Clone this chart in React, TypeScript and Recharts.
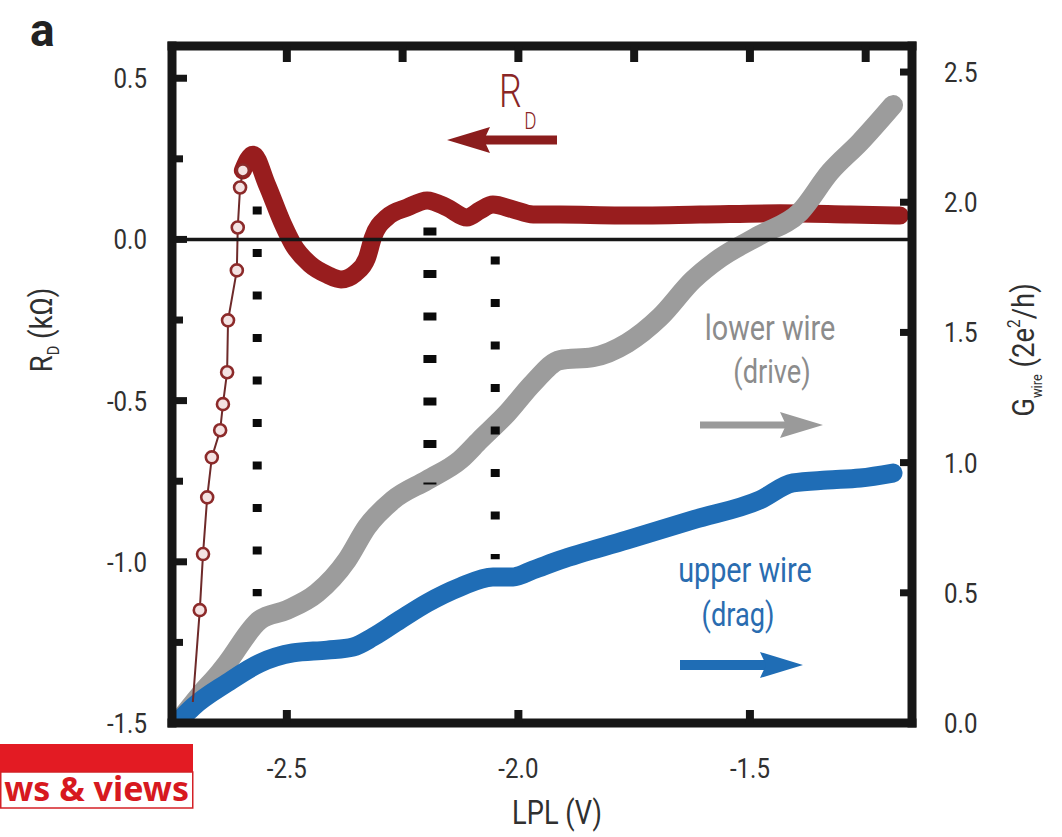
import React from 'react';
import { LineChart, Line, XAxis, YAxis, ReferenceLine } from 'recharts';

const W = 1062;
const H = 837;

// ---- data (LPL gate voltage in V) ----
// lower wire (drive) conductance, right axis (2e^2/h)
const grayX = [-2.731, -2.688, -2.644, -2.629, -2.558, -2.5, -2.435, -2.37, -2.327, -2.271, -2.197, -2.126, -2.083, -2.024, -1.968, -1.91, -1.839, -1.765, -1.694, -1.623, -1.564, -1.478, -1.392, -1.327, -1.262, -1.191];
const grayG = [0.012, 0.107, 0.196, 0.23, 0.396, 0.434, 0.499, 0.626, 0.753, 0.856, 0.933, 1.01, 1.087, 1.19, 1.306, 1.394, 1.405, 1.459, 1.559, 1.701, 1.786, 1.874, 1.962, 2.116, 2.231, 2.373];

// upper wire (drag) conductance, right axis
const blueX = [-2.731, -2.703, -2.629, -2.558, -2.487, -2.413, -2.357, -2.314, -2.256, -2.197, -2.126, -2.055, -2.011, -1.968, -1.91, -1.765, -1.623, -1.478, -1.407, -1.333, -1.262, -1.191];
const blueG = [0.012, 0.061, 0.154, 0.23, 0.269, 0.28, 0.292, 0.33, 0.396, 0.461, 0.522, 0.561, 0.561, 0.588, 0.626, 0.703, 0.78, 0.857, 0.922, 0.933, 0.941, 0.96];

// drag resistance R_D (kOhm), left axis: sparse open-circle part
const rdSparseX = [-2.703, -2.688, -2.681, -2.672, -2.662, -2.644, -2.638, -2.629, -2.627, -2.608, -2.606, -2.601, -2.595];
const rdSparseV = [-1.435, -1.15, -0.976, -0.8, -0.676, -0.592, -0.511, -0.412, -0.251, -0.096, 0.037, 0.161, 0.214];

// drag resistance R_D, dense part
const rdDenseX = [-2.595, -2.573, -2.543, -2.508, -2.487, -2.45, -2.412, -2.383, -2.352, -2.327, -2.314, -2.284, -2.24, -2.197, -2.154, -2.111, -2.083, -2.055, -2.011, -1.968, -1.91, -1.78, -1.608, -1.435, -1.284, -1.176];
const rdDenseV = [0.214, 0.263, 0.17, 0.046, -0.015, -0.077, -0.11, -0.124, -0.105, -0.058, 0.006, 0.068, 0.099, 0.121, 0.099, 0.068, 0.09, 0.108, 0.093, 0.077, 0.077, 0.074, 0.077, 0.081, 0.077, 0.074];

// dotted guide lines (x position, top and bottom in R_D units)
const guideX = [-2.564, -2.191, -2.05];
const guideTop = [0.102, 0.037, -0.053];
const guideBottom = [-1.107, -0.76, -0.992];

// ticks
const xLabelTicks = [-2.5, -2.0, -1.5];
const xTopTicks = [-2.5, -2.25, -2.0, -1.75, -1.5, -1.25];
const leftTicks = [-1.5, -1.25, -1.0, -0.75, -0.5, -0.25, 0, 0.25, 0.5];
const rightTicks = [0, 0.5, 1.0, 1.5, 2.0, 2.5];

const X_DOMAIN = [-2.748, -1.15];
const L_DOMAIN = [-1.5, 0.6];
const R_DOMAIN = [0, 2.6];

const zip = (xs: number[], ys: number[]) => xs.map((x, i) => ({ x, y: ys[i] }));
const grayData = zip(grayX, grayG);
const blueData = zip(blueX, blueG);
const rdSparse = zip(rdSparseX, rdSparseV);
const rdDense = zip(rdDenseX, rdDenseV);

const FONT = "Roboto, 'Liberation Sans', Arial, sans-serif";
const INK = '#161616';
const LABEL = '#303030';

const Cond = ({ x, y, anchor = 'middle', size = 28, fill = LABEL, weight = 400, sx = 0.86, rotate = 0, children }: any) => (
  <g transform={`translate(${x},${y}) rotate(${rotate}) scale(${sx},1)`}>
    <text x={0} y={0} textAnchor={anchor} fontFamily={FONT} fontSize={size} fill={fill} fontWeight={weight}>
      {children}
    </text>
  </g>
);

const isMajor = (v: number) => Math.abs(v * 2 - Math.round(v * 2)) < 1e-6;
const fmt = (v: number) => (Math.abs(v) < 1e-9 ? '0.0' : v.toFixed(1));

const LeftTick = (p: any) => {
  const v = p.payload.value;
  const major = isMajor(v);
  return (
    <g>
      <line x1={p.x} x2={p.x + (major ? 15 : 11)} y1={p.y} y2={p.y} stroke={INK} strokeWidth={7} />
      {major && <Cond x={p.x - 25} y={p.y + 10} anchor="end">{fmt(v)}</Cond>}
    </g>
  );
};

const RightTick = (p: any) => {
  const v = p.payload.value;
  return (
    <g>
      <line x1={p.x} x2={p.x - 12} y1={p.y} y2={p.y} stroke={INK} strokeWidth={7} />
      <Cond x={p.x + 32} y={p.y + 10} anchor="start">{fmt(v)}</Cond>
    </g>
  );
};

const BottomTick = (p: any) => {
  const v = p.payload.value;
  return (
    <g>
      <line x1={p.x} x2={p.x} y1={p.y} y2={p.y - 13} stroke={INK} strokeWidth={8} />
      <Cond x={p.x} y={p.y + 55} anchor="middle">{fmt(v)}</Cond>
    </g>
  );
};

const TopTick = (p: any) => (
  <line x1={p.x} x2={p.x} y1={p.y} y2={p.y + 16} stroke={INK} strokeWidth={8} />
);

const frameLine = { stroke: INK, strokeWidth: 9, strokeLinecap: 'square' as const };

export default function App() {
  return (
    <div style={{ position: 'absolute', left: 0, top: 0, width: W, height: H, background: '#fff', overflow: 'hidden' }}>
      <LineChart width={W} height={H} margin={{ top: 44, right: 0, bottom: 0, left: 0 }}>
        <XAxis
          xAxisId="b"
          type="number"
          dataKey="x"
          domain={X_DOMAIN}
          allowDataOverflow
          ticks={xLabelTicks}
          interval={0}
          orientation="bottom"
          height={114}
          axisLine={frameLine}
          tickLine={false}
          tickSize={0}
          tickMargin={0}
          tick={(p: any) => <BottomTick {...p} />}
        />
        <XAxis
          xAxisId="t"
          type="number"
          dataKey="x"
          domain={X_DOMAIN}
          allowDataOverflow
          ticks={xTopTicks}
          interval={0}
          orientation="top"
          height={2}
          axisLine={frameLine}
          tickLine={false}
          tickSize={0}
          tickMargin={0}
          tick={(p: any) => <TopTick {...p} />}
        />
        <YAxis
          yAxisId="L"
          type="number"
          domain={L_DOMAIN}
          allowDataOverflow
          ticks={leftTicks}
          interval={0}
          width={172}
          axisLine={frameLine}
          tickLine={false}
          tickSize={0}
          tickMargin={0}
          tick={(p: any) => <LeftTick {...p} />}
        />
        <YAxis
          yAxisId="R"
          orientation="right"
          type="number"
          domain={R_DOMAIN}
          allowDataOverflow
          ticks={rightTicks}
          interval={0}
          width={150}
          axisLine={frameLine}
          tickLine={false}
          tickSize={0}
          tickMargin={0}
          tick={(p: any) => <RightTick {...p} />}
        />

        <Line
          xAxisId="b"
          yAxisId="L"
          data={rdDense}
          dataKey="y"
          type="monotone"
          stroke="#981d1e"
          strokeWidth={18}
          strokeLinecap="round"
          strokeLinejoin="round"
          dot={false}
          isAnimationActive={false}
        />
        <Line
          xAxisId="b"
          yAxisId="R"
          data={grayData}
          dataKey="y"
          type="monotone"
          stroke="#9c9c9c"
          strokeWidth={20}
          strokeLinecap="round"
          strokeLinejoin="round"
          dot={false}
          isAnimationActive={false}
        />
        <Line
          xAxisId="b"
          yAxisId="R"
          data={blueData}
          dataKey="y"
          type="monotone"
          stroke="#1f6db6"
          strokeWidth={19}
          strokeLinecap="round"
          strokeLinejoin="round"
          dot={false}
          isAnimationActive={false}
        />
        <Line
          xAxisId="b"
          yAxisId="L"
          data={rdSparse}
          dataKey="y"
          type="linear"
          stroke="#6e2a2a"
          strokeWidth={2}
          dot={(p: any) =>
            p.index === 0 ? (
              <g key={`d${p.index}`} />
            ) : (
              <circle key={`d${p.index}`} cx={p.cx} cy={p.cy} r={6} fill="#f4e2e2" stroke="#8c2a2a" strokeWidth={2.6} />
            )
          }
          isAnimationActive={false}
        />

        <ReferenceLine xAxisId="b" yAxisId="L" y={0} stroke={INK} strokeWidth={3.5} />
        {guideX.map((gx, i) => (
          <ReferenceLine
            key={`g${i}`}
            xAxisId="b"
            yAxisId="L"
            segment={[
              { x: gx, y: guideTop[i] },
              { x: gx, y: guideBottom[i] },
            ]}
            stroke="#0a0a0a"
            strokeWidth={i === 1 ? 13 : 9}
            strokeDasharray="8 34.5"
          />
        ))}
      </LineChart>

      <svg width={W} height={H} style={{ position: 'absolute', left: 0, top: 0, pointerEvents: 'none' }}>
        {/* panel letter */}
        <text x={30} y={46} fontFamily={FONT} fontWeight={700} fontSize={46} fill="#222">a</text>

        {/* R_D annotation */}
        <g transform="translate(499,107) scale(0.78,1)">
          <text x={0} y={0} fontFamily={FONT} fontSize={46} fontWeight={300} fill="#8a2626">
            R<tspan fontSize={24} dy={22} dx={3}>D</tspan>
          </text>
        </g>
        <line x1={482} x2={557} y1={140} y2={140} stroke="#8b1d1d" strokeWidth={9} />
        <polygon points="447,140 490,127 484,140 490,153" fill="#8b1d1d" />

        {/* lower wire annotation */}
        <Cond x={770} y={340} size={36} fill="#8c8c8c" sx={0.8}>lower wire</Cond>
        <Cond x={772} y={383} size={34} fill="#8c8c8c" sx={0.8}>(drive)</Cond>
        <line x1={700} x2={792} y1={425} y2={425} stroke="#9a9a9a" strokeWidth={7} />
        <polygon points="823,425 780,412 786,425 780,438" fill="#9a9a9a" />

        {/* upper wire annotation */}
        <Cond x={745} y={582} size={36} fill="#2a6cb0" sx={0.8}>upper wire</Cond>
        <Cond x={738} y={626} size={34} fill="#2a6cb0" sx={0.8}>(drag)</Cond>
        <line x1={680} x2={772} y1={665} y2={665} stroke="#1f6db5" strokeWidth={10} />
        <polygon points="803,665 760,652 766,665 760,678" fill="#1f6db5" />

        {/* axis titles */}
        <g transform="translate(52,330) rotate(-90) scale(0.86,1)">
          <text x={0} y={0} textAnchor="middle" fontFamily={FONT} fontSize={32} fill={LABEL}>
            R<tspan fontSize={17} dy={7}>D</tspan><tspan dy={-7}> (kΩ)</tspan>
          </text>
        </g>
        <g transform="translate(1034,350) rotate(-90) scale(0.86,1)">
          <text x={0} y={0} textAnchor="middle" fontFamily={FONT} fontSize={32} fill={LABEL}>
            G<tspan fontSize={15} dy={8}>wire</tspan><tspan dy={-8}> (2e</tspan><tspan fontSize={18} dy={-14}>2</tspan><tspan dy={14}>/h)</tspan>
          </text>
        </g>
        <Cond x={557} y={824} size={34} sx={0.8}>LPL (V)</Cond>

        {/* journal badge */}
        <rect x={0} y={744} width={193} height={28} fill="#e31b23" />
        <rect x={0.75} y={772} width={192} height={36} fill="#fff" stroke="#d42026" strokeWidth={1.5} />
        <text x={189} y={801} textAnchor="end" fontFamily="'Noto Sans', 'Open Sans', sans-serif" fontWeight={700} fontSize={34} fill="#d7191f">
          ws &amp; views
        </text>
      </svg>
    </div>
  );
}
